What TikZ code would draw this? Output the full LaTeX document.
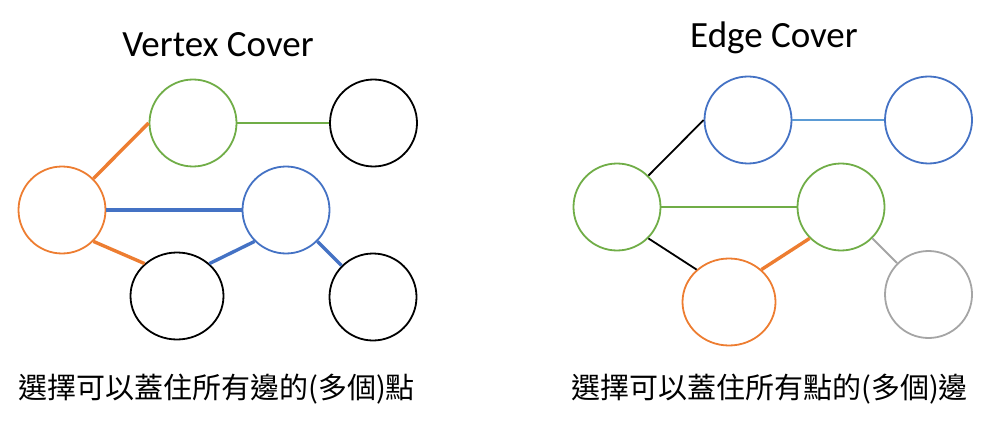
\documentclass[tikz,border=0pt]{standalone}
\usepackage{fontspec}
\newfontfamily\titlefont{Carlito}
\newfontfamily\cjkfont{Noto Sans CJK TC}
\usetikzlibrary{shapes.geometric}
\definecolor{myorange}{HTML}{ED7D31}
\definecolor{mygreen}{HTML}{70AD47}
\definecolor{myblue}{HTML}{4472C4}
\definecolor{mylblue}{HTML}{5B9BD5}
\definecolor{mygray}{HTML}{A5A5A5}
\tikzset{
  vtx/.style={draw, ellipse, line width=1.8pt, inner sep=0pt, minimum width=87pt, minimum height=87pt},
  wvtx/.style={vtx, minimum width=93pt},
  thickedge/.style={line width=3.4pt},
  thinedge/.style={line width=1.8pt},
  ttl/.style={anchor=base, font=\titlefont\fontsize{37}{40}\selectfont, inner sep=0pt},
  captxt/.style={anchor=base west, font=\cjkfont\fontsize{29}{34}\selectfont, inner sep=0pt}
}
\begin{document}
\begin{tikzpicture}[x=1pt, y=-1pt]
\useasboundingbox (0,0) rectangle (992,422);
% Vertex cover
\node[ttl] (t1) at (218,57) {Vertex Cover};
\node[vtx, mygreen] (g) at (193,123) {};
\node[vtx, black] (k1) at (373.5,123) {};
\node[vtx, myorange] (o) at (62,210) {};
\node[vtx, myblue] (b) at (286,210) {};
\node[wvtx, black] (k2) at (177,296) {};
\node[vtx, black] (k3) at (373,297) {};
\draw[thickedge, myorange] (o.45) -- (g.west);
\draw[thickedge, myorange] (o.-45) -- (k2.135);
\draw[thinedge, mygreen] (g.east) -- (k1.west);
\draw[thickedge, myblue] (o.east) -- (b.west);
\draw[thickedge, myblue] (b.225) -- (k2.45);
\draw[thickedge, myblue] (b.-45) -- (k3.135);
\node[captxt] (c1) at (18,398) {選擇可以蓋住所有邊的(多個)點};
% Edge cover
\node[ttl] (t2) at (774,48) {Edge Cover};
\node[vtx, myblue] (eb1) at (748,120) {};
\node[vtx, myblue] (eb2) at (928.5,120) {};
\node[vtx, mygreen] (eg1) at (617,207) {};
\node[vtx, mygreen] (eg2) at (841,207) {};
\node[wvtx, myorange] (eo) at (729,302) {};
\node[vtx, mygray] (ey) at (928.5,294.5) {};
\draw[thinedge, black] (eg1.45) -- (eb1.west);
\draw[thinedge, black] (eg1.-45) -- (eo.135);
\draw[thinedge, mylblue] (eb1.east) -- (eb2.west);
\draw[thinedge, mygreen] (eg1.east) -- (eg2.west);
\draw[thickedge, myorange] (eo.45) -- (eg2.225);
\draw[thinedge, mygray] (eg2.-45) -- (ey.135);
\node[captxt] (c2) at (571,398) {選擇可以蓋住所有點的(多個)邊};
\end{tikzpicture}
\end{document}
